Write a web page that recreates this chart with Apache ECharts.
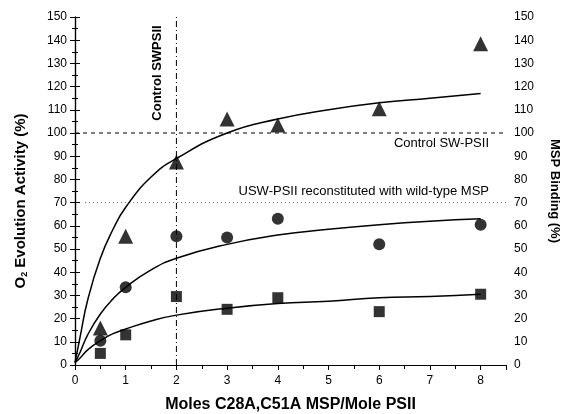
<!DOCTYPE html>
<html>
<head>
<meta charset="utf-8">
<script src="https://cdn.jsdelivr.net/npm/echarts@6/dist/echarts.min.js"></script>
<style>
  html, body { margin: 0; padding: 0; background: #fff; }
  #chart01 { width: 563px; height: 414px; }
</style>
</head>
<body>
<div id="chart01"></div>
<script>
// 数据
var moles = [0.5, 1, 2, 3, 4, 6, 8];
var triangleVals = [16, 55.5, 87.5, 106, 103.5, 110.5, 138.5];
var circleVals = [10.5, 33.5, 55.5, 55, 63, 52, 60.5];
var squareVals = [5, 13, 29.5, 24, 29, 23, 30.5];

// fitted curves
var curveX = [0, 0.1, 0.25, 0.5, 0.75, 1, 1.5, 2, 3, 4, 5, 6, 7, 8];
var curveTop = [1, 12, 28, 46, 58.5, 68, 81, 89, 100, 106, 110, 113, 115, 117];
var curveMid = [1, 5.5, 13, 22, 28.5, 33.5, 41, 46, 52, 56, 58.5, 60.5, 62, 63];
var curveLow = [1, 3, 6.5, 10.5, 13.5, 15.5, 19, 21.5, 24.5, 26.5, 27.5, 29, 29.5, 30.5];

var controlLevel = 100;
var wildTypeLevel = 70;
var wildTypeStart = 0.2;
var controlX = 2;

function pairs(xs, ys) {
  return xs.map(function (x, i) { return [x, ys[i]]; });
}

var font = 'Liberation Sans, Arial, sans-serif';

var chart01 = echarts.init(document.getElementById('chart01'));
var option = {
  animation: false,
  grid: { left: 75, right: 57, top: 17, bottom: 49, containLabel: false, outerBoundsMode: 'none' },
  xAxis: [
    {
      type: 'value',
      min: 0, max: 8.5, interval: 1,
      name: 'Moles C28A,C51A MSP/Mole PSII',
      nameLocation: 'middle',
      nameGap: 32,
      nameTextStyle: { fontFamily: font, fontSize: 16, fontWeight: 'bold', color: '#000' },
      axisLine: { lineStyle: { color: '#000', width: 1.2 } },
      axisTick: { show: true, length: 5, inside: false, lineStyle: { color: '#000' } },
      minorTick: { show: true, splitNumber: 2, length: 3, lineStyle: { color: '#000' } },
      axisLabel: {
        fontFamily: font, fontSize: 12, color: '#000', margin: 10,
        formatter: function (v) { return v > 8 ? '' : v; }
      },
      splitLine: { show: false }
    },
    {
      type: 'value',
      position: 'top',
      min: 0, max: 8.5, interval: 0.5,
      axisLine: { show: true, lineStyle: { color: '#000', width: 1.2 } },
      axisTick: { show: true, inside: true, length: 4, lineStyle: { color: '#000' } },
      axisLabel: { show: false },
      splitLine: { show: false }
    }
  ],
  yAxis: [
    {
      type: 'value',
      min: 0, max: 150, interval: 10,
      axisLine: { show: true, lineStyle: { color: '#000', width: 1.2 } },
      axisTick: { show: true, length: 5, lineStyle: { color: '#000' } },
      minorTick: { show: true, splitNumber: 2, length: 3, lineStyle: { color: '#000' } },
      axisLabel: { fontFamily: font, fontSize: 12, color: '#000', margin: 8 },
      splitLine: { show: false }
    },
    {
      type: 'value',
      position: 'right',
      min: 0, max: 150, interval: 10,
      name: 'MSP Binding (%)',
      nameLocation: 'middle',
      nameGap: 42,
      nameRotate: -90,
      nameTextStyle: { fontFamily: font, fontSize: 13, fontWeight: 'bold', color: '#000' },
      axisLine: { show: true, lineStyle: { color: '#000', width: 1.2 } },
      axisTick: { show: true, length: 5, lineStyle: { color: '#000' } },
      minorTick: { show: true, splitNumber: 2, length: 3, lineStyle: { color: '#000' } },
      axisLabel: { fontFamily: font, fontSize: 12, color: '#000', margin: 8 },
      splitLine: { show: false }
    }
  ],
  series: [
    // reference lines
    {
      type: 'line',
      data: [[0, controlLevel], [8.5, controlLevel]],
      symbol: 'none',
      lineStyle: { color: '#000', width: 1, type: [4, 4] },
      silent: true, z: 1
    },
    {
      type: 'line',
      data: [[wildTypeStart, wildTypeLevel], [8.5, wildTypeLevel]],
      symbol: 'none',
      lineStyle: { color: '#555', width: 1, type: [1, 3] },
      silent: true, z: 1
    },
    {
      type: 'line',
      data: [[controlX, 0], [controlX, 150]],
      symbol: 'none',
      lineStyle: { color: '#000', width: 1, type: [6, 3, 1, 3] },
      silent: true, z: 1
    },
    // fitted curves
    {
      type: 'line', data: pairs(curveX, curveTop), smooth: true, symbol: 'none',
      lineStyle: { color: '#000', width: 1.5 }, z: 2
    },
    {
      type: 'line', data: pairs(curveX, curveMid), smooth: true, symbol: 'none',
      lineStyle: { color: '#000', width: 1.5 }, z: 2
    },
    {
      type: 'line', data: pairs(curveX, curveLow), smooth: true, symbol: 'none',
      lineStyle: { color: '#000', width: 1.5 }, z: 2
    },
    // 数据点
    {
      type: 'scatter', data: pairs(moles, triangleVals),
      symbol: 'triangle', symbolSize: 15,
      itemStyle: { color: '#000' }, z: 3
    },
    {
      type: 'scatter', data: pairs(moles, circleVals),
      symbol: 'circle', symbolSize: 12,
      itemStyle: { color: '#000' }, z: 3
    },
    {
      type: 'scatter', data: pairs(moles, squareVals),
      symbol: 'rect', symbolSize: 11,
      itemStyle: { color: '#000' }, z: 3
    }
  ],
  graphic: [
    // left axis title, with subscript
    {
      type: 'text', x: 21, y: 201, rotation: Math.PI / 2,
      style: {
        text: '{b|O}{s|2}{b| Evolution Activity (%)}',
        align: 'center', verticalAlign: 'middle',
        rich: {
          b: { fontFamily: font, fontSize: 15, fontWeight: 'bold', fill: '#000' },
          s: { fontFamily: font, fontSize: 9, fontWeight: 'bold', fill: '#000', padding: [8, 0, 0, 0] }
        }
      }
    },
    {
      type: 'text', x: 157, y: 73, rotation: Math.PI / 2,
      style: {
        text: 'Control SWPSII', fontFamily: font, fontSize: 13, fontWeight: 'bold',
        fill: '#000', align: 'center', verticalAlign: 'middle'
      }
    },
    {
      type: 'text', x: 489, y: 143,
      style: {
        text: 'Control SW-PSII', fontFamily: font, fontSize: 13,
        fill: '#000', align: 'right', verticalAlign: 'middle'
      }
    },
    {
      type: 'text', x: 489, y: 191,
      style: {
        text: 'USW-PSII reconstituted with wild-type MSP', fontFamily: font, fontSize: 13,
        fill: '#000', align: 'right', verticalAlign: 'middle'
      }
    }
  ]
};
chart01.setOption(option);

window.addEventListener('resize', function () {
  chart01.resize();
});
</script>
</body>
</html>
